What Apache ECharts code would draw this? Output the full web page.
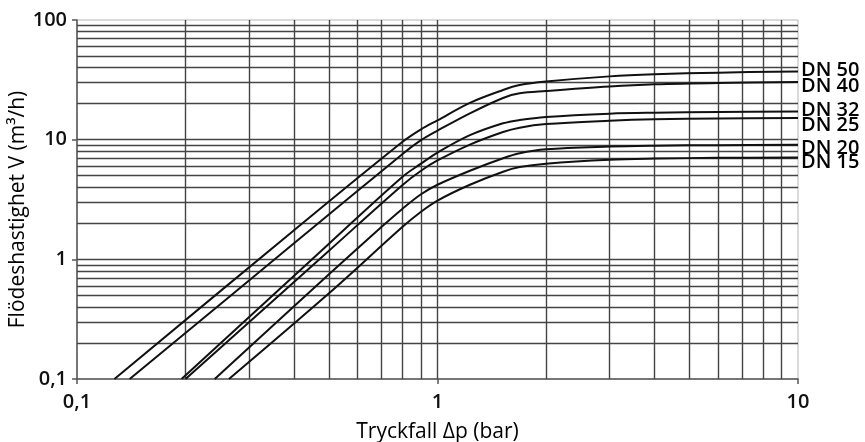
<!DOCTYPE html>
<html>
<head>
<meta charset="utf-8">
<script src="https://cdn.jsdelivr.net/npm/echarts@6/dist/echarts.min.js"></script>
<style>
  html, body { margin: 0; padding: 0; background: #fff; }
  #chart { width: 865px; height: 442px; }
</style>
</head>
<body>
<div id="chart"></div>
<script>
// pressure drop (bar) / flow (m3/h), one pair per size
const dn50Dp = [0.127, 0.4, 0.8, 0.9, 1, 1.23, 1.52, 1.69, 2, 3, 4, 6, 10]
const dn50Flow = [0.1, 1.75, 9.6, 12.2, 14.5, 20.3, 26.0, 28.6, 30.6, 33.8, 35.2, 36.3, 37.2]

const dn40Dp = [0.14, 0.4, 0.8, 0.9, 1, 1.23, 1.52, 1.69, 2, 3, 4, 6, 10]
const dn40Flow = [0.1, 1.36, 7.6, 9.9, 11.9, 16.6, 22.3, 24.4, 25.5, 27.8, 29.0, 29.8, 30.3]

const dn32Dp = [0.195, 0.5, 0.8, 0.9, 1, 1.23, 1.52, 1.69, 2, 3, 4, 6, 10]
const dn32Flow = [0.1, 1.35, 4.9, 6.3, 7.8, 10.9, 13.7, 14.6, 15.5, 16.5, 16.8, 17.0, 17.2]

const dn25Dp = [0.2, 0.5, 0.8, 0.9, 1, 1.23, 1.52, 1.69, 2, 3, 4, 6, 10]
const dn25Flow = [0.1, 1.18, 4.18, 5.5, 6.7, 9.1, 11.6, 12.6, 13.5, 14.4, 14.8, 15.0, 15.2]

const dn20Dp = [0.241, 0.5, 0.7, 0.8, 0.9, 1, 1.23, 1.52, 1.69, 2, 3, 4, 6, 10]
const dn20Flow = [0.1, 0.75, 1.87, 2.65, 3.5, 4.2, 5.5, 7.0, 7.7, 8.3, 8.75, 8.9, 9.0, 9.05]

const dn15Dp = [0.264, 0.5, 0.8, 0.9, 1, 1.23, 1.52, 1.69, 2, 3, 4, 6, 10]
const dn15Flow = [0.1, 0.52, 1.87, 2.5, 3.1, 4.2, 5.4, 5.9, 6.3, 6.8, 6.95, 7.05, 7.1]

const sizeNames = ['DN 50', 'DN 40', 'DN 32', 'DN 25', 'DN 20', 'DN 15']

// log grid: every 1..9 step inside each decade
const xGridLines = [0.2, 0.3, 0.4, 0.5, 0.6, 0.7, 0.8, 0.9, 1, 2, 3, 4, 5, 6, 7, 8, 9]
const yGridLines = [0.2, 0.3, 0.4, 0.5, 0.6, 0.7, 0.8, 0.9, 1, 2, 3, 4, 5, 6, 7, 8, 9, 10, 20, 30, 40, 50, 60, 70, 80, 90]

const FONT = '"Open Sans", "DejaVu Sans", sans-serif'
const INK = '#111'
const GRID = '#444'

const curves = [
  [dn50Dp, dn50Flow],
  [dn40Dp, dn40Flow],
  [dn32Dp, dn32Flow],
  [dn25Dp, dn25Flow],
  [dn20Dp, dn20Flow],
  [dn15Dp, dn15Flow],
]
// nudge end labels so they don't collide
const labelNudge = [-1, 4, -1, 7, 3, 5]

function fmtTick(v) {
  return String(Number(v.toPrecision(6))).replace('.', ',')
}

const chart = echarts.init(document.getElementById('chart'), null, { renderer: 'canvas' })

const series = curves.map(([dp, flow], i) => ({
  name: sizeNames[i],
  type: 'line',
  data: dp.map((x, j) => [x, flow[j]]),
  showSymbol: false,
  smooth: 0.35,
  z: 5,
  lineStyle: { color: INK, width: 2 },
  endLabel: {
    show: true,
    formatter: '{a}',
    distance: 3,
    offset: [0, labelNudge[i]],
    color: '#000',
    fontFamily: FONT,
    fontSize: 20,
    fontWeight: 600,
  },
}))

series.unshift({
  type: 'line',
  data: [],
  silent: true,
  z: 1,
  markLine: {
    silent: true,
    symbol: 'none',
    label: { show: false },
    lineStyle: { color: GRID, width: 1.4, type: 'solid' },
    emphasis: { disabled: true },
    data: [
      ...xGridLines.map(v => ({ xAxis: v })),
      ...yGridLines.map(v => ({ yAxis: v })),
    ],
  },
})

chart.setOption({
  animation: false,
  backgroundColor: '#fff',
  grid: {
    left: 77, right: 67, top: 20, bottom: 63,
    outerBoundsMode: 'none',
    show: true,
    borderColor: '#b5b5b5',
    borderWidth: 1,
  },
  xAxis: {
    type: 'log',
    logBase: 10,
    min: 0.1,
    max: 10,
    name: 'Tryckfall Δp (bar)',
    nameLocation: 'middle',
    nameGap: 43,
    nameMoveOverlap: false,
    nameTextStyle: { color: '#000', fontFamily: FONT, fontSize: 21 },
    axisLine: { show: true, lineStyle: { color: '#555', width: 1.5 } },
    axisTick: { show: true, length: 5, lineStyle: { color: '#555', width: 1.5 } },
    axisLabel: { formatter: fmtTick, color: INK, fontFamily: FONT, fontSize: 20, fontWeight: 600, margin: 13 },
    splitLine: { show: false },
  },
  yAxis: {
    type: 'log',
    logBase: 10,
    min: 0.1,
    max: 100,
    name: 'Flödeshastighet V (m³/h)',
    nameLocation: 'middle',
    nameGap: 48,
    nameMoveOverlap: false,
    nameTextStyle: { color: '#000', fontFamily: FONT, fontSize: 21, padding: [0, 20, 0, 0] },
    axisLine: { show: true, lineStyle: { color: '#555', width: 1.5 } },
    axisTick: { show: true, length: 5, lineStyle: { color: '#555', width: 1.5 } },
    axisLabel: { formatter: fmtTick, color: INK, fontFamily: FONT, fontSize: 20, fontWeight: 600, margin: 10 },
    splitLine: { show: false },
  },
  series,
})
</script>
</body>
</html>
